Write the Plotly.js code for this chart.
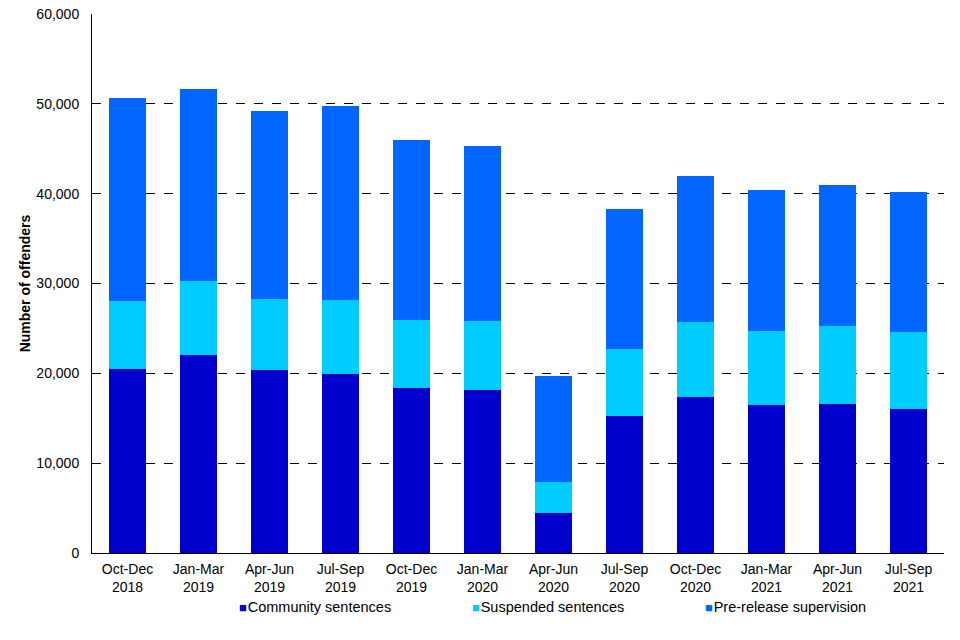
<!DOCTYPE html>
<html>
<head>
<meta charset="utf-8">
<script src="https://cdn.plot.ly/plotly-3.0.1.min.js"></script>
<style>html,body{margin:0;padding:0;background:#fff;}#chart{width:960px;height:640px;}</style>
</head>
<body>
<div id="chart"></div>
<script>
const categories = ["Oct-Dec<br>2018","Jan-Mar<br>2019","Apr-Jun<br>2019","Jul-Sep<br>2019","Oct-Dec<br>2019","Jan-Mar<br>2020","Apr-Jun<br>2020","Jul-Sep<br>2020","Oct-Dec<br>2020","Jan-Mar<br>2021","Apr-Jun<br>2021","Jul-Sep<br>2021"];
const community = [20480, 22040, 20370, 19930, 18370, 18150, 4430, 15240, 17360, 16470, 16580, 16020];
const suspended = [7580, 8240, 7910, 8230, 7570, 7680, 3460, 7470, 8360, 8240, 8690, 8580];
const prerelease = [22610, 21400, 20950, 21600, 20040, 19480, 11810, 15600, 16260, 15710, 15710, 15600];
const seriesNames = ["Community sentences", "Suspended sentences", "Pre-release supervision"];
const yTicks = [0, 10000, 20000, 30000, 40000, 50000, 60000];

const colors = ["#0000CC", "#00CCFF", "#0066FF"];
const data = [community, suspended, prerelease].map((vals, i) => ({
  type: "bar",
  x: categories,
  y: vals,
  name: seriesNames[i],
  marker: {color: colors[i], line: {width: 0}},
  hoverinfo: "y",
  showlegend: false
}));

// legend drawn as annotations (small square + label)
const legendX = [237, 470, 703];
const annotations = seriesNames.map((n, i) => ({
  xref: "paper", yref: "paper",
  x: (legendX[i] - 92) / (960 - 92 - 16),
  y: -(607 - 553) / (553 - 14),
  xanchor: "left", yanchor: "middle",
  showarrow: false,
  align: "left",
  text: '<span style="color:' + colors[i] + ';font-size:13px">\u25A0</span><span style="font-size:3px"> </span>' + n,
  font: {size: 14.5, color: "#000"}
}));

const layout = {
  width: 960, height: 640,
  barmode: "stack",
  bargap: 0.465,
  margin: {l: 92, r: 16, t: 14, b: 87},
  paper_bgcolor: "#fff",
  plot_bgcolor: "#fff",
  font: {family: "Liberation Sans, Arial, sans-serif", size: 14, color: "#000"},
  xaxis: {
    showline: true, linecolor: "#000", linewidth: 1,
    ticks: "outside", ticklen: 3, tickcolor: "rgba(0,0,0,0)",
    showgrid: false,
    tickfont: {size: 14},
    fixedrange: true
  },
  yaxis: {
    range: [0, 60000],
    tickvals: yTicks,
    tickformat: ",d",
    showline: true, linecolor: "#000", linewidth: 1,
    ticks: "",
    ticklabelstandoff: 9,
    showgrid: true, gridcolor: "#000", griddash: "dash", gridwidth: 1,
    zeroline: false,
    tickfont: {size: 14},
    title: {text: "<b>Number of offenders</b>", font: {size: 14}, standoff: 2},
    fixedrange: true
  },
  annotations: annotations,
  showlegend: false
};

Plotly.newPlot("chart", data, layout, {displayModeBar: false, staticPlot: true});
</script>
</body>
</html>
